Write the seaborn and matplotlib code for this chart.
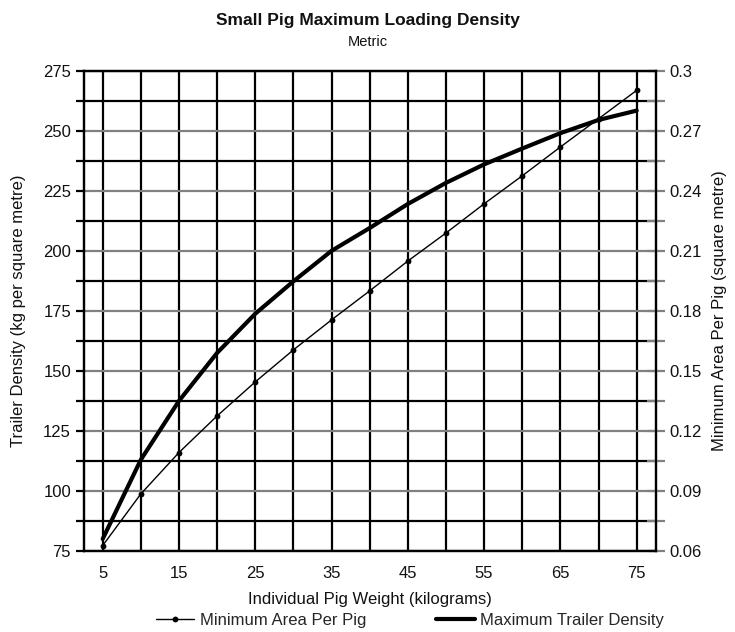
import matplotlib
matplotlib.use("Agg")
import matplotlib.pyplot as plt
import seaborn as sns
import pandas as pd

# ---- data ----
weights = [5, 10, 15, 20, 25, 30, 35, 40, 45, 50, 55, 60, 65, 70, 75]
min_area = [0.0627, 0.0885, 0.1092, 0.1275, 0.1445, 0.1605, 0.1755, 0.1900,
            0.2049, 0.2189, 0.2335, 0.2475, 0.2619, 0.2760, 0.2902]
max_density = [80.0, 113.0, 137.5, 157.5, 173.8, 187.3, 200.0, 209.5,
               219.5, 228.3, 236.0, 242.6, 249.0, 254.5, 258.4]
left_ticks = [75, 100, 125, 150, 175, 200, 225, 250, 275]
right_ticks = [0.06, 0.09, 0.12, 0.15, 0.18, 0.21, 0.24, 0.27, 0.30]
right_tick_labels = ["0.06", "0.09", "0.12", "0.15", "0.18", "0.21", "0.24", "0.27", "0.3"]
x_tick_labels = ["5", "", "15", "", "25", "", "35", "", "45", "", "55", "", "65", "", "75"]

df = pd.DataFrame({"weight": weights, "area": min_area, "density": max_density})

sns.set_style("white")
plt.rcParams["font.family"] = ["Liberation Sans", "DejaVu Sans"]

W, H = 735, 632
fig = plt.figure(figsize=(W / 100, H / 100), dpi=100)
L, R, T, B = 83.6, 655.8, 70.7, 551.0
ax = fig.add_axes([L / W, 1 - B / H, (R - L) / W, (B - T) / H])
ax2 = ax.twinx()

GRID_LW = 1.6
GRAY = "#808080"

sns.lineplot(data=df, x="weight", y="density", ax=ax, color="black",
             linewidth=3.0, legend=False, zorder=5)
sns.lineplot(data=df, x="weight", y="area", ax=ax2, color="black",
             linewidth=1.0, marker="o", markersize=4.2, markeredgewidth=0,
             legend=False, zorder=5)

# x axis
ax.set_xlim(2.5, 77.5)
ax.set_xticks(weights)
ax.set_xticklabels(x_tick_labels)

# left y axis
ax.set_ylim(75, 275)
ax.set_yticks(left_ticks)
ax.set_yticklabels([str(v) for v in left_ticks])
minor_left = [87.5 + 25 * i for i in range(8)]
ax.set_yticks(minor_left, minor=True)

# right y axis
ax2.set_ylim(0.06, 0.30)
ax2.set_yticks(right_ticks)
ax2.set_yticklabels(right_tick_labels)
ax2.set_yticks([0.075 + 0.03 * i for i in range(8)], minor=True)

# grid
ax.grid(True, which="major", axis="y", color=GRAY, linewidth=GRID_LW)
ax.grid(True, which="minor", axis="y", color="black", linewidth=GRID_LW)
ax.grid(True, which="major", axis="x", color="black", linewidth=GRID_LW)
ax2.grid(False)

FS = 12
ax.tick_params(axis="y", which="both", direction="out", length=6, width=GRID_LW,
               color="black", labelsize=FS, pad=3, labelcolor="#111111")
ax.tick_params(axis="x", which="major", direction="out", length=6.5, width=GRID_LW,
               color="black", labelsize=FS, pad=4.5, labelcolor="#111111")
ax2.tick_params(axis="y", which="both", direction="inout", length=13, width=GRID_LW,
                color=GRAY, labelsize=FS, pad=3, labelcolor="#111111")

for a in (ax, ax2):
    for s in a.spines.values():
        s.set_visible(True)
        s.set_color("black")
        s.set_linewidth(GRID_LW)

ax.set_xlabel("Individual Pig Weight (kilograms)", fontsize=FS, labelpad=8, color="#111111")
ax.set_ylabel("Trailer Density (kg per square metre)", fontsize=FS, labelpad=12, color="#111111")
ax2.set_ylabel("Minimum Area Per Pig (square metre)", fontsize=FS, labelpad=8, color="#111111")

fig.text(0.5, 1 - 20 / H, "Small Pig Maximum Loading Density", ha="center", va="center",
         fontsize=12.5, fontweight="bold", color="#111111")
fig.text(0.5, 1 - 42 / H, "Metric", ha="center", va="center", fontsize=10.5, color="#111111")

h_area = ax2.lines[0]
h_dens = ax.lines[0]
fig.legend([h_area, h_dens], ["Minimum Area Per Pig", "Maximum Trailer Density"],
           loc="center", bbox_to_anchor=(410 / W, 1 - 620 / H), ncol=2, frameon=False,
           fontsize=FS, handlelength=2.3, handletextpad=0.35, columnspacing=4.2,
           borderpad=0, borderaxespad=0)

fig.savefig("out.png", dpi=100)
